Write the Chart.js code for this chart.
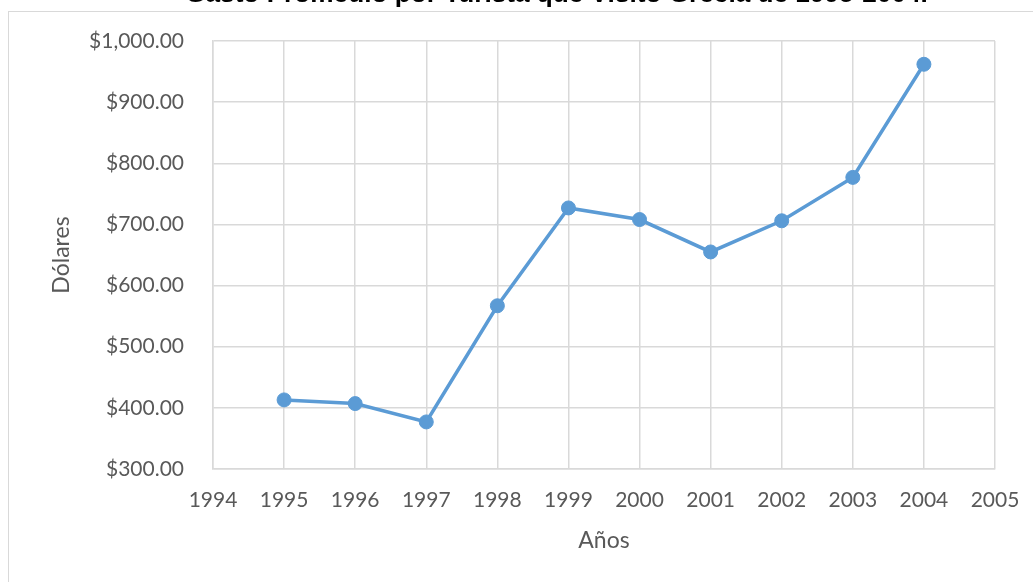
<!DOCTYPE html>
<html>
<head>
<meta charset="utf-8">
<script src="https://cdn.jsdelivr.net/npm/chart.js@4/dist/chart.umd.min.js"></script>
<style>
    html, body { margin: 0; padding: 0; background: #fff; overflow: hidden; width: 1033px; height: 582px; }
    #frame { position: absolute; left: 8px; top: 11px; width: 2000px; height: 2000px; border: 1px solid #d9d9d9; }
    #wrap { position: absolute; left: 0; top: -24px; width: 1120px; height: 606px; }
</style>
</head>
<body>
<div id="frame"></div>
<div id="wrap"><canvas id="chart"></canvas></div>
<script>
const years = [1995, 1996, 1997, 1998, 1999, 2000, 2001, 2002, 2003, 2004];
const gastoPromedio = [413, 407, 377, 567, 727, 708, 655, 706, 777, 962];
const yearRange = [1994, 2005];
const dollarRange = [300, 1000];

const blue = '#5b9bd5';
const gridGray = '#d9d9d9';
const textGray = '#595959';
const labelFont = { family: 'Lato', size: 21 };

const points = years.map((y, i) => ({ x: y, y: gastoPromedio[i] }));

const money = v => '$' + v.toLocaleString('en-US', { minimumFractionDigits: 2, maximumFractionDigits: 2 });

// the title sits a bit right of the canvas centre, so narrow its box from the left
const titleShift = {
    id: 'titleShift',
    afterLayout(chart) {
        if (chart.titleBlock) chart.titleBlock.left += 118;
    }
};

new Chart(document.getElementById('chart'), {
    type: 'line',
    data: {
        datasets: [{
            label: 'Gasto promedio',
            data: points,
            borderColor: blue,
            backgroundColor: blue,
            borderWidth: 3.5,
            pointRadius: 7,
            pointBorderWidth: 1,
            pointBackgroundColor: blue,
            pointBorderColor: blue,
            tension: 0
        }]
    },
    plugins: [titleShift],
    options: {
        responsive: true,
        maintainAspectRatio: false,
        animation: false,
        events: [],
        layout: { padding: { left: 0, right: 125, top: 0, bottom: 13 } },
        plugins: {
            legend: { display: false },
            tooltip: { enabled: false },
            title: {
                display: true,
                text: 'Gasto Promedio por Turista que Visitó Grecia de 1995-2004.',
                color: '#000',
                font: { family: 'Liberation Sans', size: 26.2, weight: 'bold' },
                padding: { top: 3, bottom: 30.6 }
            }
        },
        scales: {
            x: {
                type: 'linear',
                min: yearRange[0],
                max: yearRange[1],
                afterFit: s => { s.height = 100; },
                ticks: {
                    stepSize: 1,
                    color: textGray,
                    font: labelFont,
                    padding: 19,
                    maxRotation: 0,
                    callback: v => String(v)
                },
                grid: { color: gridGray, lineWidth: 1.5, drawTicks: false },
                border: { color: gridGray, width: 1.5 },
                title: {
                    display: true,
                    text: 'Años',
                    color: textGray,
                    font: { family: 'Lato', size: 23 },
                    padding: { top: 0, bottom: 15 }
                }
            },
            y: {
                min: dollarRange[0],
                max: dollarRange[1],
                afterFit: s => { s.width = 213; },
                ticks: {
                    stepSize: 100,
                    color: textGray,
                    font: labelFont,
                    padding: 29,
                    callback: v => money(v)
                },
                grid: { color: gridGray, lineWidth: 1.5, drawTicks: false },
                border: { color: gridGray, width: 1.5 },
                title: {
                    display: true,
                    text: 'Dólares',
                    color: textGray,
                    font: { family: 'Lato', size: 23 },
                    padding: { top: 48, bottom: 0 }
                }
            }
        }
    }
});
</script>
</body>
</html>
